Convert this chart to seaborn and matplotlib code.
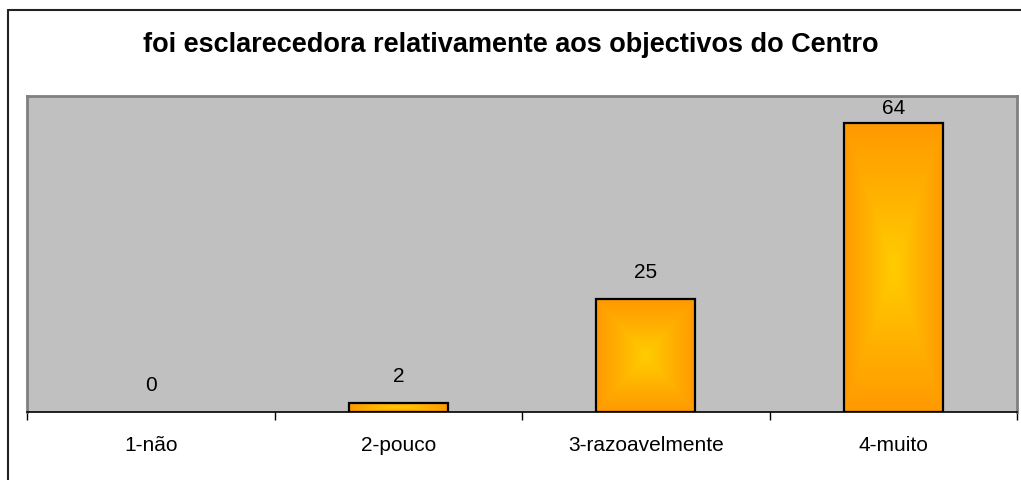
import numpy as np
import pandas as pd
import matplotlib
matplotlib.use("Agg")
import matplotlib.pyplot as plt
import seaborn as sns
from matplotlib.colors import LinearSegmentedColormap
from matplotlib.lines import Line2D

categories = ["1-não", "2-pouco", "3-razoavelmente", "4-muito"]
values = [0, 2, 25, 64]
title = "foi esclarecedora relativamente aos objectivos do Centro"

sns.set_theme(style="white")
plt.rcParams["font.family"] = ["Liberation Sans", "DejaVu Sans"]

df = pd.DataFrame({"cat": categories, "val": values})

fig = plt.figure(figsize=(10.21, 4.8), dpi=100)
fig.patch.set_facecolor("white")
ax = fig.add_axes([27 / 1021, 1 - 412 / 480, 990 / 1021, 316 / 480])
ax.set_facecolor("#C0C0C0")

sns.barplot(data=df, x="cat", y="val", ax=ax, width=0.4, color="#FF9900",
            edgecolor="black", linewidth=0, saturation=1)

# gradient fill (rectangular "from center")
cmap = LinearSegmentedColormap.from_list("g", ["#FFCC00", "#FFB000", "#FF9900"])
n = 200
u = np.linspace(-1, 1, n)
U, V = np.meshgrid(u, u)
grad = np.maximum(np.abs(U), np.abs(V))
grad = grad ** 1.1
for p in list(ax.patches):
    x0, y0 = p.get_x(), p.get_y()
    w, h = p.get_width(), p.get_height()
    if h <= 0:
        continue
    im = ax.imshow(grad, cmap=cmap, extent=[x0, x0 + w, y0, y0 + h],
                   aspect="auto", zorder=p.get_zorder() + 0.1, origin="lower",
                   interpolation="bilinear")
    im.set_clip_path(p)
    edge = plt.Rectangle((x0, y0), w, h, fill=False, edgecolor="black",
                         linewidth=1.6, zorder=p.get_zorder() + 0.2)
    ax.add_patch(edge)
ax.set_xlim(-0.5, len(categories) - 0.5)
ax.set_ylim(0, 70)

for i, v in enumerate(values):
    ax.text(i, min(v + 5.8, 67.3), f"{v}", ha="center", va="center",
            fontsize=15, color="black")

ax.set_xlabel("")
ax.set_ylabel("")
ax.set_yticks([])
ax.set_xticks(range(len(categories)))
ax.set_xticklabels(categories, fontsize=15)
ax.tick_params(axis="x", which="major", length=0, pad=17, colors="black")
ax.set_xticks(np.arange(-0.5, len(categories), 1.0), minor=True)
ax.tick_params(axis="x", which="minor", length=6, width=1, color="black",
               direction="out", bottom=True)

for s in ["top", "left", "right"]:
    ax.spines[s].set_color("#808080")
    ax.spines[s].set_linewidth(2)
    ax.spines[s].set_visible(True)
ax.spines["bottom"].set_color("black")
ax.spines["bottom"].set_linewidth(1.2)
ax.spines["bottom"].set_visible(True)

fig.text(0.5, 1 - 45 / 480, title, ha="center", va="center",
         fontsize=19.5, fontweight="bold", color="black")

# outer chart border (left and top)
fig.add_artist(Line2D([7.5 / 1021, 7.5 / 1021], [0, 1 - 10 / 480],
                      transform=fig.transFigure, color="#222222", linewidth=1.5))
fig.add_artist(Line2D([7.5 / 1021, 1], [1 - 10 / 480, 1 - 10 / 480],
                      transform=fig.transFigure, color="#222222", linewidth=1.5))

fig.savefig("out.png", dpi=100)
